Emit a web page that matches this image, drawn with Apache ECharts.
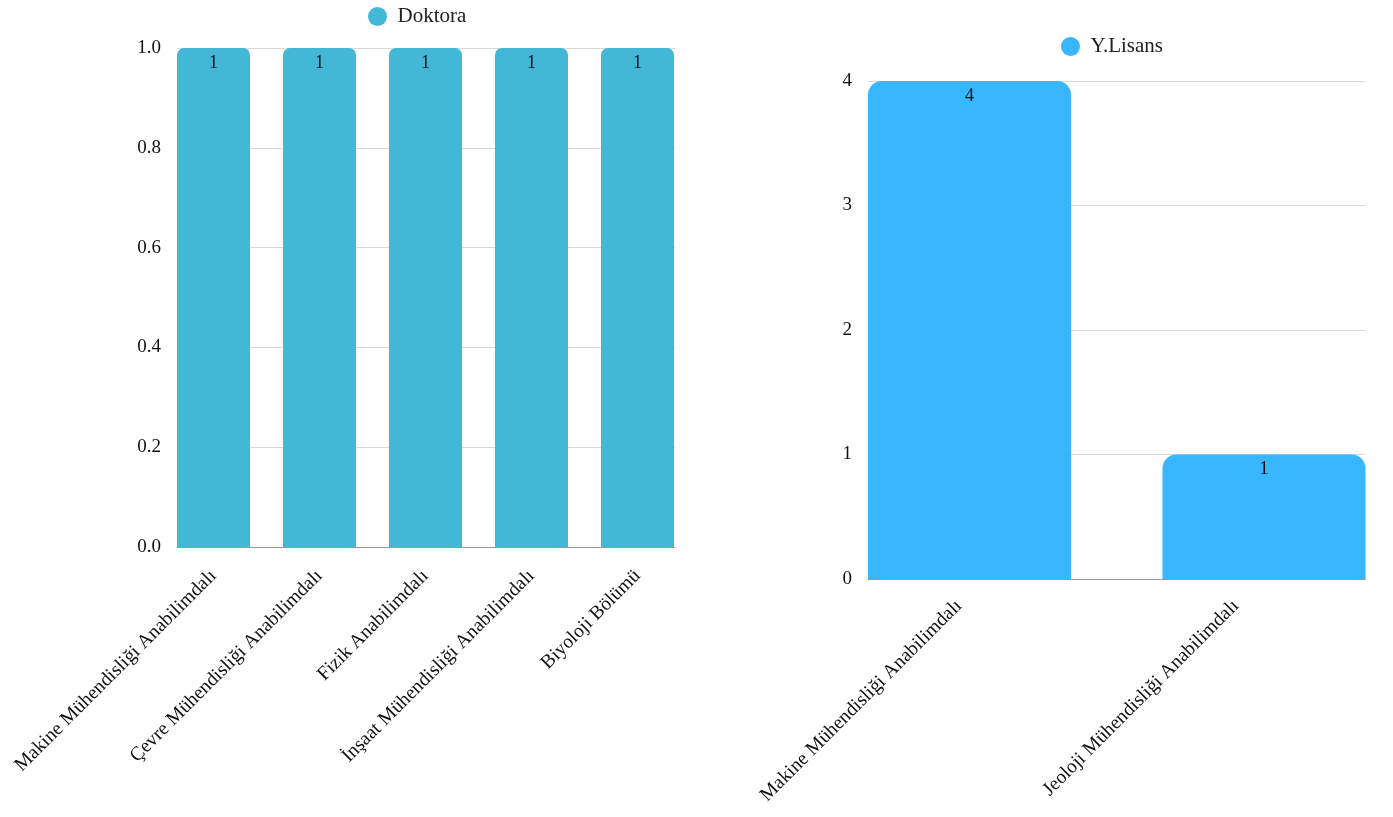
<!DOCTYPE html>
<html>
<head>
<meta charset="utf-8">
<script src="https://cdn.jsdelivr.net/npm/echarts@6/dist/echarts.min.js"></script>
<style>
html,body{margin:0;padding:0;background:#fff;}
#chart{width:1393px;height:817px;}
</style>
</head>
<body>
<div id="chart"></div>
<script>
var doktoraCategories = ['Makine Mühendisliği Anabilimdalı', 'Çevre Mühendisliği Anabilimdalı', 'Fizik Anabilimdalı', 'İnşaat Mühendisliği Anabilimdalı', 'Biyoloji Bölümü'];
var doktoraValues = [1, 1, 1, 1, 1];
var lisansCategories = ['Makine Mühendisliği Anabilimdalı', 'Jeoloji Mühendisliği Anabilimdalı'];
var lisansValues = [4, 1];
var doktoraTicks = { min: 0, max: 1, interval: 0.2 };
var lisansTicks = { min: 0, max: 4, interval: 1 };

var FONT = '"Liberation Serif", "Times New Roman", serif';
var chart = echarts.init(document.getElementById('chart'));
var hidden = { show: false };
var xLabelLeft = { rotate: 45, interval: 0, fontSize: 19.5, color: '#111', fontFamily: FONT, margin: 26 };
var xLabelRight = { rotate: 45, interval: 0, fontSize: 19.5, color: '#111', fontFamily: FONT, margin: 24 };
var yLabelPad = [4, 0, 0, 0];
chart.setOption({
  animation: false,
  textStyle: { fontFamily: FONT },
  legend: [
    { data: ['Doktora'], left: 363, top: 1, icon: 'circle', itemWidth: 30, itemHeight: 19,
      textStyle: { fontFamily: FONT, fontSize: 21, color: '#222' } },
    { data: ['Y.Lisans'], left: 1056, top: 31, icon: 'circle', itemWidth: 30, itemHeight: 19,
      textStyle: { fontFamily: FONT, fontSize: 21, color: '#222' } }
  ],
  grid: [
    { left: 177, width: 498, top: 48, height: 499 },
    { left: 160.5, width: 530, top: 48, height: 499 },
    { left: 868, width: 497, top: 81, height: 498 },
    { left: 969.5, width: 294.5, top: 81, height: 498 },
    { left: 959, width: 277, top: 81, height: 498 }
  ],
  xAxis: [
    { type: 'category', gridIndex: 0, data: doktoraCategories, axisLabel: hidden, axisTick: hidden,
      axisLine: { show: true, lineStyle: { color: '#999', width: 1 } } },
    { type: 'category', gridIndex: 1, data: doktoraCategories, axisTick: hidden, axisLine: hidden,
      axisLabel: xLabelLeft },
    { type: 'category', gridIndex: 2, data: lisansCategories, axisLabel: hidden, axisTick: hidden,
      axisLine: { show: true, lineStyle: { color: '#999', width: 1 } } },
    { type: 'category', gridIndex: 3, data: lisansCategories, boundaryGap: false, show: false },
    { type: 'category', gridIndex: 4, data: lisansCategories, boundaryGap: false, axisTick: hidden, axisLine: hidden,
      axisLabel: xLabelRight }
  ],
  yAxis: [
    { type: 'value', gridIndex: 0, min: doktoraTicks.min, max: doktoraTicks.max, interval: doktoraTicks.interval,
      axisLine: hidden, axisTick: hidden,
      splitLine: { lineStyle: { color: '#d9d9d9' } },
      axisLabel: { fontSize: 19, color: '#111', fontFamily: FONT, margin: 16, padding: yLabelPad, formatter: function (v) { return v.toFixed(1); } } },
    { type: 'value', gridIndex: 1, min: doktoraTicks.min, max: doktoraTicks.max, interval: doktoraTicks.interval,
      show: false, splitLine: hidden },
    { type: 'value', gridIndex: 2, min: lisansTicks.min, max: lisansTicks.max, interval: lisansTicks.interval,
      axisLine: hidden, axisTick: hidden,
      splitLine: { lineStyle: { color: '#d9d9d9' } },
      axisLabel: { fontSize: 19, color: '#111', fontFamily: FONT, margin: 16, padding: yLabelPad } },
    { type: 'value', gridIndex: 3, min: lisansTicks.min, max: lisansTicks.max, interval: lisansTicks.interval,
      show: false, splitLine: hidden },
    { type: 'value', gridIndex: 4, min: lisansTicks.min, max: lisansTicks.max, interval: lisansTicks.interval,
      show: false, splitLine: hidden }
  ],
  series: [
    { name: 'Doktora', type: 'bar', xAxisIndex: 1, yAxisIndex: 1, data: doktoraValues, barWidth: 73,
      itemStyle: { color: '#42b7d6', borderRadius: [7, 7, 0, 0] },
      label: { show: true, position: 'insideTop', distance: 6, fontSize: 18, color: '#111', fontFamily: FONT } },
    { name: 'Y.Lisans', type: 'bar', xAxisIndex: 3, yAxisIndex: 3, data: lisansValues, barWidth: 203, clip: false,
      itemStyle: { color: '#38b6ff', borderRadius: [14, 14, 0, 0] },
      label: { show: true, position: 'insideTop', distance: 6, fontSize: 18, color: '#111', fontFamily: FONT } }
  ]
});
</script>
</body>
</html>
